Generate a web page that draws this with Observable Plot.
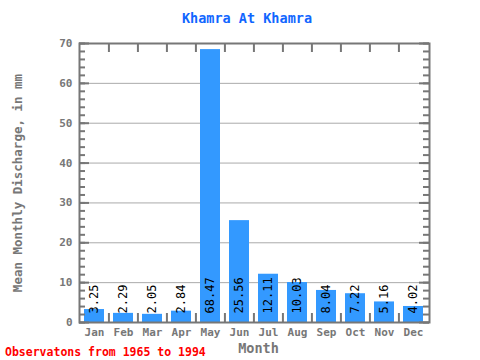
<!DOCTYPE html>
<html><head><meta charset="utf-8">
<script src="https://cdn.jsdelivr.net/npm/d3@7"></script>
<script src="https://cdn.jsdelivr.net/npm/@observablehq/plot@0.6"></script>
<style>
body{margin:0;background:#fff;}
#wrap{position:relative;width:480px;height:360px;font-family:"DejaVu Sans Mono",monospace;}
#title{position:absolute;left:0;width:494px;top:9px;text-align:center;color:#1166ff;font-weight:bold;font-size:13.5px;line-height:18px;}
#caption{position:absolute;left:5px;top:344px;color:#ff0000;font-weight:bold;font-size:11.5px;line-height:16px;}
</style></head><body>
<div id="wrap"><div id="chart"></div><div id="title">Khamra At Khamra</div><div id="caption">Observatons from 1965 to 1994</div></div>
<script>
const months = ["Jan","Feb","Mar","Apr","May","Jun","Jul","Aug","Sep","Oct","Nov","Dec"];
const values = [3.25, 2.29, 2.05, 2.84, 68.47, 25.56, 12.11, 10.03, 8.04, 7.22, 5.16, 4.02];
const valueLabels = ["3.25","2.29","2.05","2.84","68.47","25.56","12.11","10.03","8.04","7.22","5.16","4.02"];
const yTicks = [0,10,20,30,40,50,60,70];
const yMinorTicks = d3.range(0, 71, 2);
const yLabel = "Mean Monthly Discharge, in mm";
const xLabel = "Month";

const data = months.map((m,i)=>({month:m, value:values[i], label:valueLabels[i]}));
const W=480,H=360, mt=43, mb=38, ml=79, mr=51;
const fw = W-ml-mr, fh = H-mt-mb;
const step = fw/months.length;
const gray = "#777";
const font = "DejaVu Sans Mono";

const plot = Plot.plot({
  width:W, height:H, marginTop:mt, marginBottom:mb, marginLeft:ml, marginRight:mr,
  style:{fontFamily:font, background:"white", color:gray},
  x:{domain:months, paddingInner:0.31, paddingOuter:0.155, label:null},
  y:{domain:[0,70], label:null},
  marks:[
    Plot.ruleY(yTicks.slice(1,-1), {stroke:"#aaa", strokeWidth:1}),
    Plot.barY(data, {x:"month", y:"value", fill:"#3399ff"}),
    Plot.text(data, {x:"month", y:0, text:"label", rotate:-90, textAnchor:"start", dy:-9, fill:"black", fontSize:12, fontFamily:font}),
    Plot.ruleY(yMinorTicks, {insetRight: fw-6, stroke:gray, strokeWidth:2}),
    Plot.ruleY(yTicks, {insetRight: fw-10, stroke:gray, strokeWidth:2}),
    Plot.ruleY(yMinorTicks, {insetLeft: fw-6, stroke:gray, strokeWidth:2}),
    Plot.ruleY(yTicks, {insetLeft: fw-10, stroke:gray, strokeWidth:2}),
    Plot.ruleX(months.slice(1), {x:d=>d, dx:-step/2, insetBottom: fh-9, stroke:gray, strokeWidth:2}),
    Plot.ruleX(months.slice(1), {x:d=>d, dx:-step/2, insetTop: fh-9, stroke:gray, strokeWidth:2}),
    Plot.frame({stroke:gray, strokeWidth:2}),
    Plot.axisY({ticks:yTicks, tickSize:0, tickPadding:7, fontSize:11, fontWeight:"bold", label:null}),
    Plot.axisX({tickSize:0, tickPadding:6, fontSize:11, fontWeight:"bold", label:null}),
    Plot.text([yLabel], {frameAnchor:"left", rotate:-90, textAnchor:"middle", dx:-62, fontSize:12.5, fontWeight:"bold", fill:gray}),
    Plot.text([xLabel], {frameAnchor:"bottom", lineAnchor:"middle", dx:4, dy:26, fontSize:13.5, fontWeight:"bold", fill:gray})
  ]
});
document.getElementById("chart").appendChild(plot);
</script>
</body></html>
